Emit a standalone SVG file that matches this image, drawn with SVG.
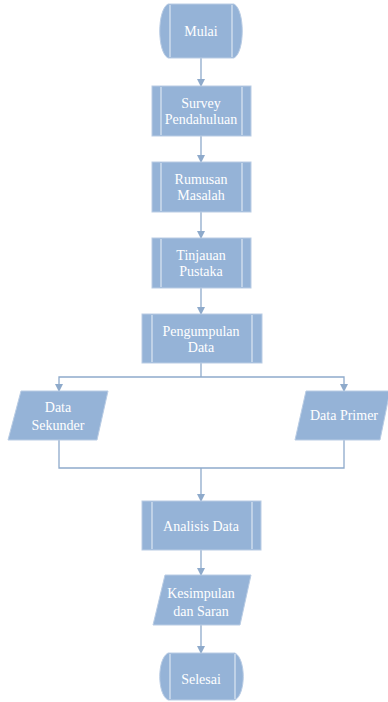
<svg xmlns="http://www.w3.org/2000/svg" width="388" height="702" viewBox="0 0 388 702">
<style>
.s{fill:#95b3d7;stroke:#b9cce4;stroke-width:1}
.i{stroke:#dce6f2;stroke-width:1.2;fill:none}
.t{font-family:"Liberation Serif","Times New Roman",serif;font-size:14px;fill:#ffffff;text-anchor:middle}
.c{stroke:#8eaacb;stroke-width:1.3;fill:none}
</style>
<defs>
<marker id="a" markerWidth="8" markerHeight="8" refX="7" refY="4" orient="auto" markerUnits="userSpaceOnUse">
<path d="M0,0 L8,4 L0,8 Z" fill="#8eaacb"/>
</marker>
</defs>
<rect width="388" height="702" fill="#ffffff"/>
<g id="connectors">
<line class="c" x1="201" y1="58" x2="201" y2="86" marker-end="url(#a)"/>
<line class="c" x1="201" y1="136" x2="201" y2="162" marker-end="url(#a)"/>
<line class="c" x1="201" y1="212" x2="201" y2="238" marker-end="url(#a)"/>
<line class="c" x1="201" y1="288" x2="201" y2="314" marker-end="url(#a)"/>
<polyline class="c" points="201,363 201,377"/>
<polyline class="c" points="201,377 59,377 59,391" marker-end="url(#a)"/>
<polyline class="c" points="201,377 344,377 344,391" marker-end="url(#a)"/>
<polyline class="c" points="59,440 59,468 344,468 344,440"/>
<line class="c" x1="201" y1="468" x2="201" y2="501" marker-end="url(#a)"/>
<line class="c" x1="201" y1="550" x2="201" y2="575" marker-end="url(#a)"/>
<line class="c" x1="201" y1="625" x2="201" y2="653" marker-end="url(#a)"/>
</g>
<g id="mulai">
<path class="s" d="M168,4 H234 C245,10 245,52 234,58 H168 C157,52 157,10 168,4 Z"/>
<line class="i" x1="170" y1="5" x2="170" y2="57"/>
<line class="i" x1="232" y1="5" x2="232" y2="57"/>
<text class="t" x="201" y="36">Mulai</text>
</g>
<g id="survey">
<rect class="s" x="152" y="86" width="99" height="50"/>
<line class="i" x1="161" y1="87" x2="161" y2="135"/>
<line class="i" x1="242" y1="87" x2="242" y2="135"/>
<text class="t" x="201" y="108">Survey</text>
<text class="t" x="201" y="124">Pendahuluan</text>
</g>
<g id="rumusan">
<rect class="s" x="152" y="162" width="99" height="50"/>
<line class="i" x1="161" y1="163" x2="161" y2="211"/>
<line class="i" x1="242" y1="163" x2="242" y2="211"/>
<text class="t" x="201" y="184">Rumusan</text>
<text class="t" x="201" y="200">Masalah</text>
</g>
<g id="tinjauan">
<rect class="s" x="152" y="238" width="99" height="50"/>
<line class="i" x1="161" y1="239" x2="161" y2="287"/>
<line class="i" x1="242" y1="239" x2="242" y2="287"/>
<text class="t" x="201" y="260">Tinjauan</text>
<text class="t" x="201" y="276">Pustaka</text>
</g>
<g id="pengumpulan">
<rect class="s" x="142" y="314" width="120" height="49"/>
<line class="i" x1="152" y1="315" x2="152" y2="362"/>
<line class="i" x1="252" y1="315" x2="252" y2="362"/>
<text class="t" x="201" y="336">Pengumpulan</text>
<text class="t" x="201" y="352">Data</text>
</g>
<g id="sekunder">
<polygon class="s" points="21,391 108,391 97,440 8,440"/>
<text class="t" x="58" y="412">Data</text>
<text class="t" x="58" y="430">Sekunder</text>
</g>
<g id="primer">
<polygon class="s" points="306,391 390,391 380,440 295,440"/>
<text class="t" x="344" y="420">Data Primer</text>
</g>
<g id="analisis">
<rect class="s" x="142" y="501" width="119" height="49"/>
<line class="i" x1="152" y1="502" x2="152" y2="549"/>
<line class="i" x1="252" y1="502" x2="252" y2="549"/>
<text class="t" x="201" y="531">Analisis Data</text>
</g>
<g id="kesimpulan">
<polygon class="s" points="165,575 251,575 240,625 153,625"/>
<text class="t" x="201" y="598">Kesimpulan</text>
<text class="t" x="201" y="616">dan Saran</text>
</g>
<g id="selesai">
<path class="s" d="M168,653 H235 C246,659 246,694 235,700 H168 C157,694 157,659 168,653 Z"/>
<line class="i" x1="170" y1="654" x2="170" y2="699"/>
<line class="i" x1="235" y1="654" x2="235" y2="699"/>
<text class="t" x="201" y="684">Selesai</text>
</g>
</svg>
